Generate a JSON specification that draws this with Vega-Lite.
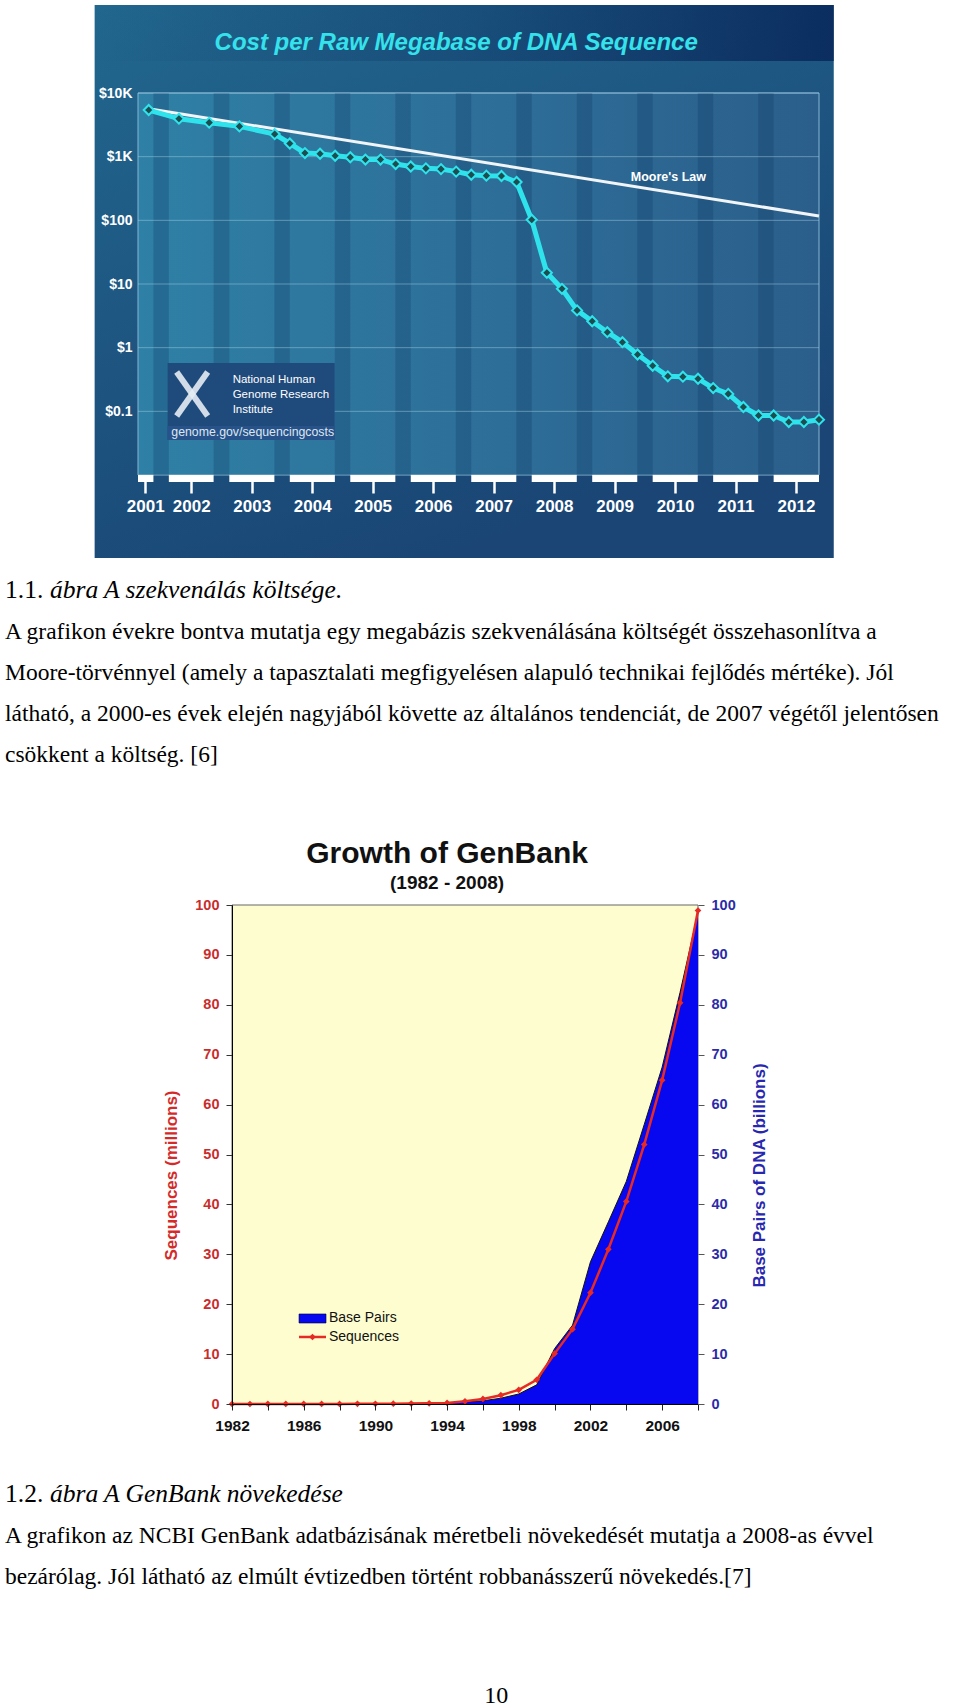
{
  "$schema": "https://vega.github.io/schema/vega-lite/v6.json",
  "width": 960,
  "height": 1708,
  "autosize": "none",
  "padding": 0,
  "background": "white",
  "config": {"view": {"stroke": null}, "font": "Liberation Sans"},
  "datasets": {
    "cost": [
      {"t": 2001.667, "cost": 5400}, {"t": 2002.167, "cost": 3950}, {"t": 2002.667, "cost": 3420},
      {"t": 2003.167, "cost": 2990}, {"t": 2003.75, "cost": 2260}, {"t": 2004.0, "cost": 1610},
      {"t": 2004.25, "cost": 1140}, {"t": 2004.5, "cost": 1110}, {"t": 2004.75, "cost": 1035},
      {"t": 2005.0, "cost": 980}, {"t": 2005.25, "cost": 900}, {"t": 2005.5, "cost": 900},
      {"t": 2005.75, "cost": 765}, {"t": 2006.0, "cost": 700}, {"t": 2006.25, "cost": 655},
      {"t": 2006.5, "cost": 638}, {"t": 2006.75, "cost": 583}, {"t": 2007.0, "cost": 520},
      {"t": 2007.25, "cost": 503}, {"t": 2007.5, "cost": 497}, {"t": 2007.75, "cost": 400},
      {"t": 2008.0, "cost": 102}, {"t": 2008.25, "cost": 15.0}, {"t": 2008.5, "cost": 8.4},
      {"t": 2008.75, "cost": 3.85}, {"t": 2009.0, "cost": 2.6}, {"t": 2009.25, "cost": 1.75},
      {"t": 2009.5, "cost": 1.22}, {"t": 2009.75, "cost": 0.78}, {"t": 2010.0, "cost": 0.52},
      {"t": 2010.25, "cost": 0.355}, {"t": 2010.5, "cost": 0.35}, {"t": 2010.75, "cost": 0.325},
      {"t": 2011.0, "cost": 0.232}, {"t": 2011.25, "cost": 0.188}, {"t": 2011.5, "cost": 0.117},
      {"t": 2011.75, "cost": 0.086}, {"t": 2012.0, "cost": 0.086}, {"t": 2012.25, "cost": 0.068},
      {"t": 2012.5, "cost": 0.068}, {"t": 2012.75, "cost": 0.074}
    ],
    "moore": [{"t": 2001.667, "cost": 5660}, {"t": 2012.75, "cost": 117}],
    "bars": [
      {"s": 2001.49, "e": 2001.745}, {"s": 2002.0, "e": 2002.74}, {"s": 2003.0, "e": 2003.745},
      {"s": 2004.0, "e": 2004.745}, {"s": 2005.0, "e": 2005.745}, {"s": 2006.0, "e": 2006.745},
      {"s": 2007.0, "e": 2007.745}, {"s": 2008.0, "e": 2008.745}, {"s": 2009.0, "e": 2009.745},
      {"s": 2010.0, "e": 2010.745}, {"s": 2011.0, "e": 2011.745}, {"s": 2012.0, "e": 2012.75}
    ],
    "stripes": [
      {"s": 2001.745, "e": 2002.0}, {"s": 2002.74, "e": 2003.0}, {"s": 2003.745, "e": 2004.0},
      {"s": 2004.745, "e": 2005.0}, {"s": 2005.745, "e": 2006.0}, {"s": 2006.745, "e": 2007.0},
      {"s": 2007.745, "e": 2008.0}, {"s": 2008.745, "e": 2009.0}, {"s": 2009.745, "e": 2010.0},
      {"s": 2010.745, "e": 2011.0}, {"s": 2011.745, "e": 2012.0}
    ],
    "grid": [{"v": 0.1}, {"v": 1}, {"v": 10}, {"v": 100}, {"v": 1000}, {"v": 10000}],
    "genbank": [
      {"year": 1982, "seq": 0.0006, "bp": 0.0007}, {"year": 1983, "seq": 0.0024, "bp": 0.0022},
      {"year": 1984, "seq": 0.0043, "bp": 0.0044}, {"year": 1985, "seq": 0.0057, "bp": 0.0059},
      {"year": 1986, "seq": 0.0097, "bp": 0.0098}, {"year": 1987, "seq": 0.0149, "bp": 0.0158},
      {"year": 1988, "seq": 0.0202, "bp": 0.0243}, {"year": 1989, "seq": 0.0282, "bp": 0.0347},
      {"year": 1990, "seq": 0.0393, "bp": 0.0496}, {"year": 1991, "seq": 0.0551, "bp": 0.0717},
      {"year": 1992, "seq": 0.0785, "bp": 0.101}, {"year": 1993, "seq": 0.144, "bp": 0.157},
      {"year": 1994, "seq": 0.215, "bp": 0.218}, {"year": 1995, "seq": 0.555, "bp": 0.385},
      {"year": 1996, "seq": 1.02, "bp": 0.652}, {"year": 1997, "seq": 1.77, "bp": 1.16},
      {"year": 1998, "seq": 2.84, "bp": 2.01}, {"year": 1999, "seq": 4.86, "bp": 3.84},
      {"year": 2000, "seq": 10.1, "bp": 11.1}, {"year": 2001, "seq": 15.0, "bp": 15.8},
      {"year": 2002, "seq": 22.3, "bp": 28.5}, {"year": 2003, "seq": 31.0, "bp": 36.5},
      {"year": 2004, "seq": 40.6, "bp": 44.6}, {"year": 2005, "seq": 52.0, "bp": 56.0},
      {"year": 2006, "seq": 64.9, "bp": 67.5}, {"year": 2007, "seq": 80.4, "bp": 82.5},
      {"year": 2008, "seq": 98.9, "bp": 98.5}
    ],
    "texts": [
      {"line": 0, "kind": "capnum", "text": "1.1."},
      {"line": 0, "kind": "capit", "text": "ábra A szekvenálás költsége."},
      {"line": 1, "kind": "para", "text": "A grafikon évekre bontva mutatja egy megabázis szekvenálásána költségét összehasonlítva a"},
      {"line": 2, "kind": "para", "text": "Moore-törvénnyel (amely a tapasztalati megfigyelésen alapuló technikai fejlődés mértéke). Jól"},
      {"line": 3, "kind": "para", "text": "látható, a 2000-es évek elején nagyjából követte az általános tendenciát, de 2007 végétől jelentősen"},
      {"line": 4, "kind": "para", "text": "csökkent a költség. [6]"},
      {"line": 22, "kind": "capnum", "text": "1.2."},
      {"line": 22, "kind": "capit", "text": "ábra A GenBank növekedése"},
      {"line": 23, "kind": "para", "text": "A grafikon az NCBI GenBank adatbázisának méretbeli növekedését mutatja a 2008-as évvel"},
      {"line": 24, "kind": "para", "text": "bezárólag. Jól látható az elmúlt évtizedben történt robbanásszerű növekedés.[7]"},
      {"line": 27, "kind": "page", "text": "10"}
    ]
  },
  "layer": [
    {
      "layer": [
        {
          "data": {"values": [{}]},
          "mark": {"type": "rect", "fill": {"gradient": "linear", "x1": 0, "y1": 0, "x2": 0.5, "y2": 1, "stops": [{"offset": 0, "color": "#21678e"}, {"offset": 1, "color": "#1a4574"}]}},
          "encoding": {
            "x": {"datum": 2000.773, "type": "quantitative",
              "scale": {"domain": [2001.49, 2012.75], "range": [138, 819], "nice": false, "zero": false},
              "axis": {"orient": "bottom", "offset": -1233, "values": [2001.61, 2002.37, 2003.37, 2004.37, 2005.37, 2006.37, 2007.37, 2008.37, 2009.37, 2010.37, 2011.37, 2012.37],
                "labelExpr": "floor(datum.value)", "domain": false, "grid": false, "ticks": true, "tickColor": "#ffffff", "tickWidth": 2.5, "tickSize": 18,
                "labelColor": "#ffffff", "labelFont": "Liberation Sans", "labelFontWeight": "bold", "labelFontSize": 17, "labelPadding": 5,
                "labelFlush": false, "labelOverlap": false, "title": null, "zindex": 2}},
            "x2": {"datum": 2012.994},
            "y": {"datum": 241000, "type": "quantitative",
              "scale": {"type": "log", "domain": [0.01, 10000], "range": [475, 93], "nice": false},
              "axis": {"orient": "left", "offset": -138, "values": [0.1, 1, 10, 100, 1000, 10000],
                "labelExpr": "datum.value >= 1000 ? '$' + (datum.value / 1000) + 'K' : '$' + datum.value",
                "domain": false, "ticks": false, "grid": false, "labelColor": "#ffffff", "labelFontWeight": "bold", "labelFontSize": 14,
                "labelPadding": 6, "labelFlush": false, "labelOverlap": false, "title": null, "zindex": 2}},
            "y2": {"datum": 0.000498}
          }
        },
        {
          "data": {"values": [{}]},
          "mark": {"type": "rect", "fill": {"gradient": "linear", "x1": 0, "y1": 0, "x2": 1, "y2": 0, "stops": [{"offset": 0, "color": "rgba(10,42,92,0)"}, {"offset": 0.5, "color": "rgba(10,42,92,0.3)"}, {"offset": 1, "color": "rgba(8,38,90,0.85)"}]}},
          "encoding": {"x": {"datum": 2000.773}, "x2": {"datum": 2012.994}, "y": {"datum": 241000}, "y2": {"datum": 31810}}
        },
        {
          "data": {"values": [{}]},
          "mark": {"type": "rect", "stroke": "#86b6d2", "strokeWidth": 1, "fill": {"gradient": "linear", "x1": 0, "y1": 0, "x2": 1, "y2": 0, "stops": [{"offset": 0, "color": "#2f80a6"}, {"offset": 1, "color": "#2b5e8b"}]}},
          "encoding": {"x": {"datum": 2001.49}, "x2": {"datum": 2012.75}, "y": {"datum": 10000}, "y2": {"datum": 0.01}}
        },
        {
          "data": {"name": "stripes"},
          "mark": {"type": "rect", "fill": "#0f3d68", "opacity": 0.3},
          "encoding": {"x": {"field": "s", "type": "quantitative"}, "x2": {"field": "e"}, "y": {"datum": 10000}, "y2": {"datum": 0.01}}
        },
        {
          "data": {"name": "grid"},
          "mark": {"type": "rule", "color": "#a9d2e6", "opacity": 0.45, "strokeWidth": 1},
          "encoding": {"x": {"datum": 2001.49}, "x2": {"datum": 2012.75}, "y": {"field": "v", "type": "quantitative"}}
        },
        {
          "data": {"values": [{}]},
          "mark": {"type": "rect", "fill": "#1f4a7c"},
          "encoding": {"x": {"datum": 2001.98}, "x2": {"datum": 2004.742}, "y": {"datum": 0.5745}, "y2": {"datum": 0.0355}}
        },
        {
          "data": {"values": [{}]},
          "mark": {"type": "rect", "fill": "#27538a"},
          "encoding": {"x": {"datum": 2001.98}, "x2": {"datum": 2004.742}, "y": {"datum": 0.0589}, "y2": {"datum": 0.0355}}
        },
        {
          "data": {"values": [{}]},
          "mark": {"type": "rule", "color": "#e4ecf4", "strokeWidth": 6, "opacity": 0.9},
          "encoding": {"x": {"datum": 2002.129}, "x2": {"datum": 2002.642}, "y": {"datum": 0.415}, "y2": {"datum": 0.0845}}
        },
        {
          "data": {"values": [{}]},
          "mark": {"type": "rule", "color": "#e4ecf4", "strokeWidth": 6, "opacity": 0.9},
          "encoding": {"x": {"datum": 2002.642}, "x2": {"datum": 2002.129}, "y": {"datum": 0.415}, "y2": {"datum": 0.0845}}
        },
        {
          "data": {"values": [{}]},
          "mark": {"type": "text", "text": "National Human\nGenome Research\nInstitute", "lineBreak": "\n", "lineHeight": 15, "align": "left", "baseline": "alphabetic", "fontSize": 11.5, "color": "#ffffff"},
          "encoding": {"x": {"datum": 2003.055}, "y": {"datum": 0.2787}}
        },
        {
          "data": {"values": [{}]},
          "mark": {"type": "text", "text": "genome.gov/sequencingcosts", "align": "center", "baseline": "alphabetic", "fontSize": 12.3, "color": "#dde6ef"},
          "encoding": {"x": {"datum": 2003.386}, "y": {"datum": 0.041}}
        },
        {
          "data": {"name": "bars"},
          "mark": {"type": "rect", "fill": "#ffffff"},
          "encoding": {"x": {"field": "s", "type": "quantitative"}, "x2": {"field": "e"}, "y": {"datum": 0.01}, "y2": {"datum": 0.00777}}
        },
        {
          "data": {"name": "moore"},
          "mark": {"type": "line", "color": "#f2f5f8", "strokeWidth": 3},
          "encoding": {"x": {"field": "t", "type": "quantitative"}, "y": {"field": "cost", "type": "quantitative"}}
        },
        {
          "data": {"name": "cost"},
          "mark": {"type": "line", "color": "#2fe3ec", "strokeWidth": 5, "strokeJoin": "round"},
          "encoding": {"x": {"field": "t", "type": "quantitative"}, "y": {"field": "cost", "type": "quantitative"}}
        },
        {
          "data": {"name": "cost"},
          "mark": {"type": "point", "shape": "diamond", "size": 100, "filled": true, "fill": "#1d4d50", "stroke": "#2fe3ec", "strokeWidth": 2, "opacity": 1},
          "encoding": {"x": {"field": "t", "type": "quantitative"}, "y": {"field": "cost", "type": "quantitative"}}
        },
        {
          "data": {"values": [{}]},
          "mark": {"type": "text", "text": "Cost per Raw Megabase of DNA Sequence", "align": "center", "baseline": "alphabetic", "fontSize": 24, "fontWeight": "bold", "fontStyle": "italic", "color": "#35e2ec"},
          "encoding": {"x": {"datum": 2006.751}, "y": {"datum": 47360}}
        },
        {
          "data": {"values": [{}]},
          "mark": {"type": "text", "text": "Moore's Law", "align": "center", "baseline": "middle", "fontSize": 12.5, "fontWeight": "bold", "color": "#ffffff"},
          "encoding": {"x": {"datum": 2010.26}, "y": {"datum": 480}}
        }
      ]
    },
    {
      "layer": [
        {
          "layer": [
            {
              "data": {"values": [{}]},
              "mark": {"type": "rect", "fill": "#fefdd0", "stroke": "#666666", "strokeWidth": 1},
              "encoding": {
                "x": {"datum": 1982, "type": "quantitative",
                  "scale": {"domain": [1982, 2008], "range": [232, 698], "nice": false, "zero": false},
                  "axis": {"orient": "bottom", "offset": -304, "values": [1982, 1983, 1984, 1985, 1986, 1987, 1988, 1989, 1990, 1991, 1992, 1993, 1994, 1995, 1996, 1997, 1998, 1999, 2000, 2001, 2002, 2003, 2004, 2005, 2006, 2007, 2008],
                    "labelExpr": "(datum.value - 1982) % 4 == 0 ? '' + datum.value : ''", "domain": true, "domainColor": "#000000", "domainWidth": 1,
                    "ticks": true, "tickColor": "#222222", "tickSize": 6, "grid": false, "labelColor": "#111111", "labelFontWeight": "bold", "labelFontSize": 15.5,
                    "labelPadding": 8, "labelFlush": false, "labelOverlap": false, "title": null, "zindex": 2}},
                "x2": {"datum": 2008},
                "y": {"datum": 0, "type": "quantitative",
                  "scale": {"domain": [0, 100], "range": [1404, 905], "nice": false, "zero": false},
                  "axis": {"orient": "right", "offset": -262, "values": [0, 10, 20, 30, 40, 50, 60, 70, 80, 90, 100], "domain": false,
                    "ticks": true, "tickColor": "#555555", "tickSize": 6, "grid": false, "labelColor": "#2b2ba8", "labelFontWeight": "bold", "labelFontSize": 14.5,
                    "labelPadding": 7, "labelFlush": false, "labelOverlap": false,
                    "title": "Base Pairs of DNA (billions)", "titleColor": "#2727b0", "titleFontSize": 17, "titleFontWeight": "bold",
                    "titleAngle": 270, "titleX": 61, "titleY": 1175, "titleBaseline": "middle", "titleAlign": "center", "zindex": 2}},
                "y2": {"datum": 100}
              }
            },
            {
              "data": {"name": "genbank"},
              "mark": {"type": "area", "color": "#0808f0", "opacity": 1},
              "encoding": {"x": {"field": "year", "type": "quantitative"}, "y": {"field": "bp", "type": "quantitative"}}
            },
            {
              "data": {"name": "genbank"},
              "mark": {"type": "line", "color": "#111111", "strokeWidth": 1},
              "encoding": {"x": {"field": "year", "type": "quantitative"}, "y": {"field": "bp", "type": "quantitative"}}
            }
          ]
        },
        {
          "layer": [
            {
              "data": {"name": "genbank"},
              "mark": {"type": "line", "color": "#e62a24", "strokeWidth": 2.5, "point": {"shape": "diamond", "size": 45, "filled": true, "color": "#e62a24"}},
              "encoding": {
                "x": {"field": "year", "type": "quantitative"},
                "y": {"field": "seq", "type": "quantitative",
                  "scale": {"domain": [0, 100], "range": [1404, 905], "nice": false, "zero": false},
                  "axis": {"orient": "left", "offset": -232, "values": [0, 10, 20, 30, 40, 50, 60, 70, 80, 90, 100], "domain": true, "domainColor": "#000000",
                    "ticks": true, "tickColor": "#333333", "tickSize": 6, "grid": false, "labelColor": "#c82d2d", "labelFontWeight": "bold", "labelFontSize": 14.5,
                    "labelPadding": 7, "labelFlush": false, "labelOverlap": false,
                    "title": "Sequences (millions)", "titleColor": "#d42a2a", "titleFontSize": 17, "titleFontWeight": "bold",
                    "titleAngle": 270, "titleX": -61, "titleY": 1175, "titleBaseline": "middle", "titleAlign": "center", "zindex": 2}}
              }
            },
            {
              "data": {"values": [{}]},
              "mark": {"type": "rect", "fill": "#0808f0", "stroke": "#000033", "strokeWidth": 0.6},
              "encoding": {"x": {"datum": 1985.74}, "x2": {"datum": 1987.245}, "y": {"datum": 18.04}, "y2": {"datum": 16.23}}
            },
            {
              "data": {"values": [{}]},
              "mark": {"type": "rule", "color": "#e62a24", "strokeWidth": 2.5},
              "encoding": {"x": {"datum": 1985.74}, "x2": {"datum": 1987.245}, "y": {"datum": 13.43}}
            },
            {
              "data": {"values": [{}]},
              "mark": {"type": "point", "shape": "diamond", "size": 45, "filled": true, "color": "#e62a24", "opacity": 1},
              "encoding": {"x": {"datum": 1986.49}, "y": {"datum": 13.43}}
            },
            {
              "data": {"values": [{}]},
              "mark": {"type": "text", "text": "Base Pairs", "align": "left", "baseline": "middle", "fontSize": 14, "color": "#111111"},
              "encoding": {"x": {"datum": 1987.41}, "y": {"datum": 17.23}}
            },
            {
              "data": {"values": [{}]},
              "mark": {"type": "text", "text": "Sequences", "align": "left", "baseline": "middle", "fontSize": 14, "color": "#111111"},
              "encoding": {"x": {"datum": 1987.41}, "y": {"datum": 13.43}}
            },
            {
              "data": {"values": [{}]},
              "mark": {"type": "text", "text": "Growth of GenBank", "align": "center", "baseline": "alphabetic", "fontSize": 30, "fontWeight": "bold", "color": "#111111"},
              "encoding": {"x": {"datum": 1994.0}, "y": {"datum": 108.42}}
            },
            {
              "data": {"values": [{}]},
              "mark": {"type": "text", "text": "(1982 - 2008)", "align": "center", "baseline": "alphabetic", "fontSize": 19, "fontWeight": "bold", "color": "#111111"},
              "encoding": {"x": {"datum": 1994.0}, "y": {"datum": 103.2}}
            }
          ]
        }
      ],
      "resolve": {"scale": {"y": "independent"}, "axis": {"y": "independent"}}
    },
    {
      "data": {"name": "texts"},
      "layer": [
        {
          "transform": [{"filter": "datum.kind == 'capnum'"}],
          "mark": {"type": "text", "font": "Liberation Serif", "fontSize": 25.5, "align": "left", "baseline": "alphabetic", "color": "#000000"},
          "encoding": {
            "x": {"datum": 0, "type": "quantitative", "scale": {"domain": [0, 1], "range": [5, 955], "nice": false, "zero": false}, "axis": null},
            "y": {"field": "line", "type": "quantitative", "scale": {"domain": [0, 24], "range": [598, 1584.4], "nice": false, "zero": false}, "axis": null},
            "text": {"field": "text"}
          }
        },
        {
          "transform": [{"filter": "datum.kind == 'capit'"}],
          "mark": {"type": "text", "font": "Liberation Serif", "fontSize": 25.5, "fontStyle": "italic", "align": "left", "baseline": "alphabetic", "dx": 45, "color": "#000000"},
          "encoding": {"x": {"datum": 0}, "y": {"field": "line", "type": "quantitative"}, "text": {"field": "text"}}
        },
        {
          "transform": [{"filter": "datum.kind == 'para'"}],
          "mark": {"type": "text", "font": "Liberation Serif", "fontSize": 23.5, "align": "left", "baseline": "alphabetic", "color": "#000000"},
          "encoding": {"x": {"datum": 0}, "y": {"field": "line", "type": "quantitative"}, "text": {"field": "text"}}
        },
        {
          "transform": [{"filter": "datum.kind == 'page'"}],
          "mark": {"type": "text", "font": "Liberation Serif", "fontSize": 24, "align": "center", "baseline": "alphabetic", "dy": -5, "color": "#000000"},
          "encoding": {"x": {"datum": 0.517}, "y": {"field": "line", "type": "quantitative"}, "text": {"field": "text"}}
        }
      ]
    }
  ],
  "resolve": {"scale": {"x": "independent", "y": "independent"}, "axis": {"x": "independent", "y": "independent"}}
}
